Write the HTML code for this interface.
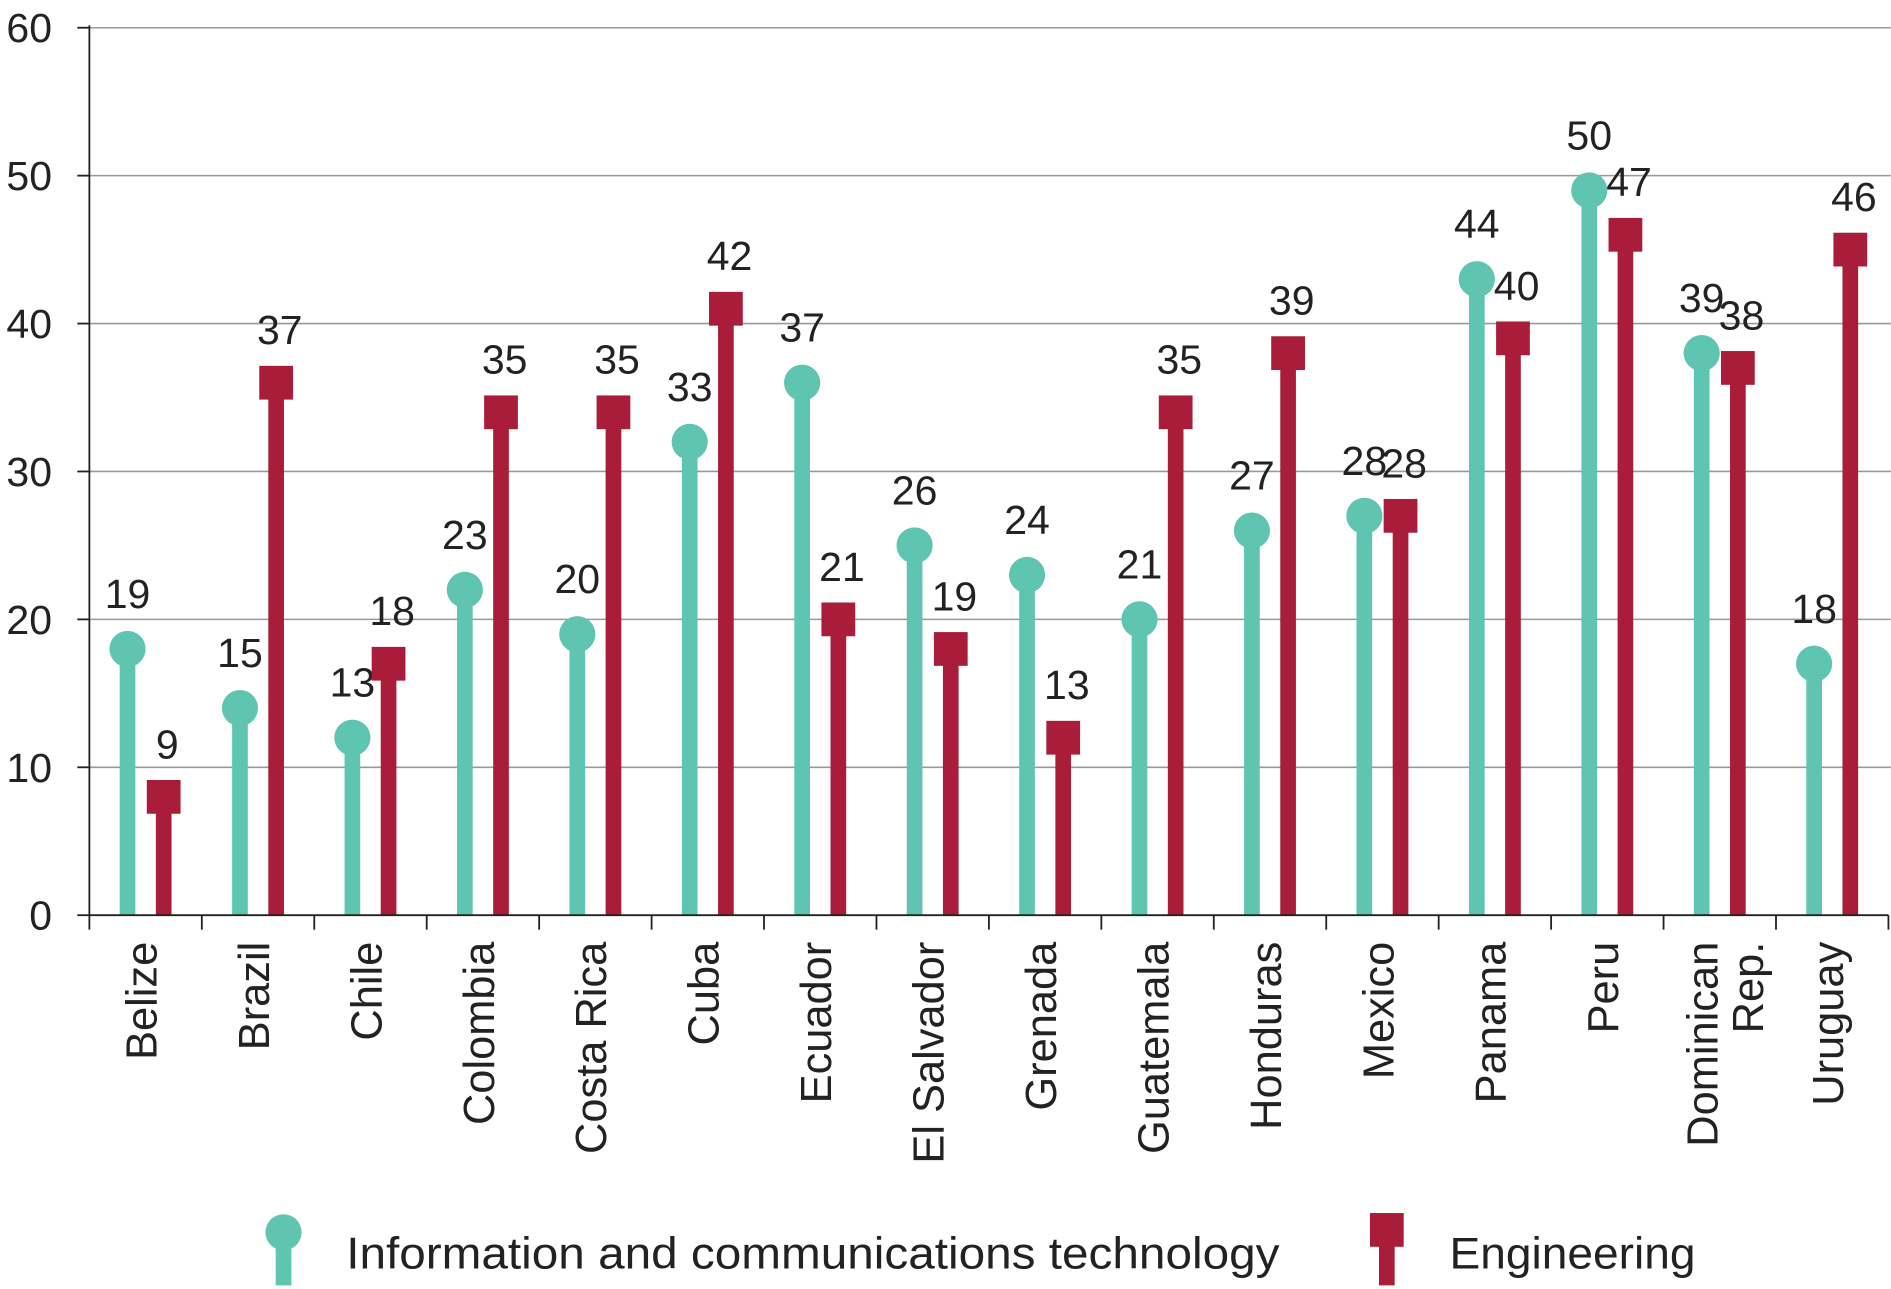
<!DOCTYPE html>
<html><head><meta charset="utf-8"><style>
html,body{margin:0;padding:0;background:#fff}
svg{display:block}
text{font-family:"Liberation Sans",sans-serif;fill:#222}
</style></head><body>
<svg width="1891" height="1289" viewBox="0 0 1568 1069" xmlns="http://www.w3.org/2000/svg">
<g id="grid"></g>
<g id="marks"></g>
<g id="axes"></g>
<g>
 <line x1="235" y1="1022" x2="235" y2="1066" stroke="#5fc4b0" stroke-width="13"/>
 <circle cx="235" cy="1022" r="15" fill="#5fc4b0"/>
 <text x="287" y="1052" font-size="37" textLength="774" lengthAdjust="spacingAndGlyphs">Information and communications technology</text>
 <line x1="1150" y1="1020" x2="1150" y2="1066" stroke="#a91d3a" stroke-width="13"/>
 <rect x="1136" y="1006" width="28" height="28" fill="#a91d3a"/>
 <text x="1202" y="1052" font-size="37" textLength="204" lengthAdjust="spacingAndGlyphs">Engineering</text>
</g>
</svg>
<script>
const categories=["Belize","Brazil","Chile","Colombia","Costa Rica","Cuba","Ecuador","El Salvador","Grenada","Guatemala","Honduras","Mexico","Panama","Peru","Dominican|Rep.","Uruguay"];
const ictValues=[19,15,13,23,20,33,37,26,24,21,27,28,44,50,39,18];
const engValues=[9,37,18,35,35,42,21,19,13,35,39,28,40,47,38,46];
const yTicks=[0,10,20,30,40,50,60];
const NS="http://www.w3.org/2000/svg";
const x0=74,x1=1566,y0=759,yTop=23;
const bw=(x1-x0)/categories.length;
const ys=v=>y0-(v/60)*(y0-yTop);
const xc=i=>x0+bw*(i+0.5);
function mk(tag,attrs,parent){const e=document.createElementNS(NS,tag);for(const k in attrs)e.setAttribute(k,attrs[k]);parent.appendChild(e);return e;}
const grid=document.getElementById('grid'),marks=document.getElementById('marks'),axes=document.getElementById('axes');
yTicks.forEach(t=>{
 if(t>0){const g=mk('line',{x1:x0,x2:x1+2,y1:ys(t),y2:ys(t),stroke:'#999','stroke-width':1.3},grid);
 
 }
 const tk=mk('line',{x1:x0-10,x2:x0,y1:ys(t),y2:ys(t),stroke:'#222','stroke-width':1.5},axes);
 
 
 const tl=mk('text',{x:x0-31,y:ys(t)+12,'font-size':34,'text-anchor':'end'},axes);
 tl.textContent=t;
 
 
});
const ya=mk('line',{x1:x0,x2:x0,y1:yTop-2,y2:y0,stroke:'#222','stroke-width':1.5},axes);


const xa=mk('line',{x1:x0,x2:x1,y1:y0,y2:y0,stroke:'#222','stroke-width':1.5},axes);


for(let i=0;i<=categories.length;i++){
 const t=mk('line',{x1:x0+bw*i,x2:x0+bw*i,y1:y0,y2:y0+12,stroke:'#222','stroke-width':1.5},axes);
 
 
}
categories.forEach((c,i)=>{
 const cx=xc(i);
 const lines=c.split('|');
 lines.forEach((ln,j)=>{
  const off=lines.length>1?(j===0?-14:24):-3;
  const tx=cx+off+12;
  const t=mk('text',{x:0,y:0,'font-size':36,'text-anchor':'end',transform:`translate(${tx},${y0+22}) rotate(-90)`},axes);
  t.textContent=ln;
  
  
 });
 const vi=ictValues[i],xi=cx-15,yi=ys(vi-1);
 const li=mk('line',{x1:xi,x2:xi,y1:y0,y2:yi,stroke:'#5fc4b0','stroke-width':13},marks);
 
 
 const ci=mk('circle',{cx:xi,cy:yi,r:15,fill:'#5fc4b0'},marks);
 
 
 const ti=mk('text',{x:xi,y:yi-34,'font-size':34,'text-anchor':'middle'},marks);
 ti.textContent=vi;
 
 
 const ve=engValues[i],xe=cx+15,ye=ys(ve-1);
 const le=mk('line',{x1:xe,x2:xe,y1:y0,y2:ye,stroke:'#a91d3a','stroke-width':13},marks);
 
 
 const re=mk('rect',{x:xe-14,y:ye-14,width:28,height:28,fill:'#a91d3a'},marks);
 
 
 const te=mk('text',{x:xe+3,y:ye-32,'font-size':34,'text-anchor':'middle'},marks);
 te.textContent=ve;
 
 
});
</script>
</body></html>
